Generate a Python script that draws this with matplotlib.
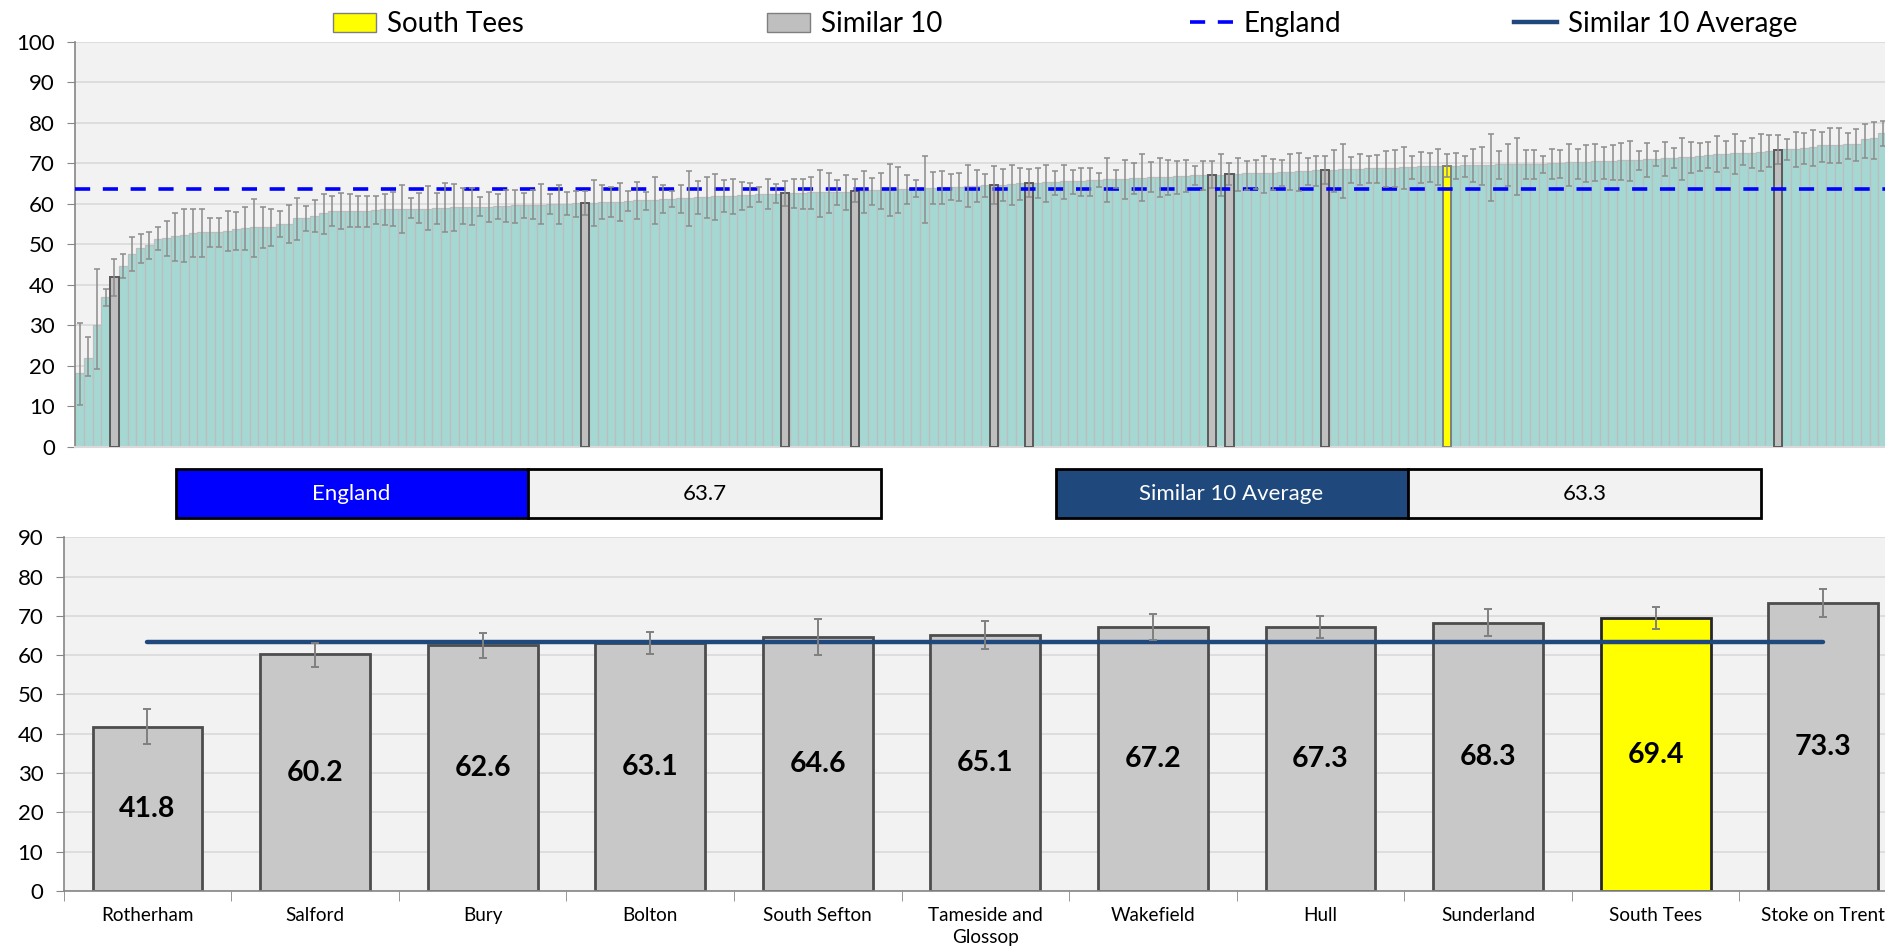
import numpy as np
import matplotlib.pyplot as plt
from matplotlib.patches import Rectangle, Patch
from matplotlib.lines import Line2D

plt.rcParams['font.family'] = ['Lato', 'DejaVu Sans']

# all CCGs, sorted ascending (value, lower CI, upper CI)
ccg_vals = [18.3, 22.0, 30.0, 36.9, 41.8, 44.7, 47.5, 49.0, 49.8, 51.4,
            51.5, 52.0, 52.3, 52.7, 52.9, 52.9, 53.0, 53.3, 53.7, 53.9,
            54.2, 54.2, 54.3, 55.0, 55.1, 56.4, 56.5, 57.0, 57.6, 58.2,
            58.2, 58.2, 58.3, 58.3, 58.4, 58.6, 58.6, 58.7, 58.8, 58.8,
            58.8, 58.9, 59.0, 59.1, 59.2, 59.3, 59.3, 59.3, 59.4, 59.5,
            59.6, 59.6, 59.7, 59.8, 59.9, 60.0, 60.0, 60.1, 60.2, 60.2,
            60.3, 60.4, 60.5, 60.6, 60.8, 60.9, 61.0, 61.1, 61.2, 61.3,
            61.5, 61.6, 61.7, 61.8, 61.9, 62.0, 62.1, 62.2, 62.3, 62.4,
            62.5, 62.6, 62.7, 62.7, 62.8, 62.9, 62.9, 63.0, 63.0, 63.1,
            63.2, 63.3, 63.4, 63.5, 63.6, 63.7, 63.8, 63.8, 63.9, 64.0,
            64.1, 64.2, 64.3, 64.4, 64.5, 64.6, 64.7, 64.8, 65.0, 65.1,
            65.2, 65.3, 65.4, 65.5, 65.6, 65.7, 65.8, 65.9, 66.1, 66.1,
            66.2, 66.3, 66.4, 66.5, 66.6, 66.7, 66.8, 66.9, 67.0, 67.1,
            67.2, 67.2, 67.3, 67.4, 67.5, 67.6, 67.7, 67.7, 67.8, 67.9,
            68.0, 68.1, 68.2, 68.3, 68.4, 68.5, 68.6, 68.6, 68.7, 68.8,
            68.9, 68.9, 69.0, 69.1, 69.2, 69.2, 69.3, 69.4, 69.4, 69.5,
            69.5, 69.6, 69.6, 69.7, 69.7, 69.8, 69.8, 69.9, 69.9, 70.0,
            70.1, 70.2, 70.3, 70.4, 70.5, 70.5, 70.6, 70.7, 70.8, 70.9,
            71.0, 71.1, 71.2, 71.3, 71.5, 71.6, 71.8, 72.0, 72.2, 72.3,
            72.4, 72.5, 72.6, 72.8, 73.0, 73.3, 73.5, 73.6, 73.8, 74.0,
            74.4, 74.5, 74.6, 74.7, 74.8, 75.9, 76.1, 77.5]

ccg_lo = [10.3, 17.4, 19.1, 34.7, 37.3, 41.6, 43.3, 45.4, 46.4, 48.5,
          47.2, 45.9, 45.7, 46.9, 46.9, 49.2, 49.4, 48.3, 48.6, 48.5,
          46.8, 49.0, 49.6, 51.8, 50.4, 51.0, 53.3, 53.0, 52.4, 54.5,
          53.7, 54.2, 54.3, 54.3, 55.0, 54.7, 54.5, 52.7, 56.4, 55.3,
          53.4, 55.1, 52.9, 53.3, 55.1, 54.7, 57.0, 55.4, 56.3, 55.4,
          55.3, 56.5, 56.1, 54.9, 57.5, 55.1, 57.1, 56.8, 57.1, 54.6,
          56.1, 56.6, 55.7, 58.3, 56.3, 58.4, 55.1, 57.6, 59.2, 57.8,
          54.5, 57.5, 56.5, 56.0, 57.9, 57.4, 58.4, 59.3, 60.5, 58.8,
          60.1, 59.4, 58.9, 58.8, 58.6, 56.6, 57.6, 59.6, 58.4, 60.3,
          57.6, 59.8, 58.6, 57.0, 57.8, 60.0, 61.6, 55.2, 60.0, 60.0,
          60.9, 60.7, 59.1, 60.5, 61.7, 60.0, 60.7, 59.8, 60.9, 61.6,
          61.3, 60.4, 62.1, 61.1, 62.4, 61.8, 61.9, 64.0, 60.3, 63.9,
          61.2, 62.5, 60.7, 62.8, 61.7, 62.1, 62.3, 62.9, 64.5, 63.5,
          63.8, 61.8, 64.5, 63.2, 63.5, 63.7, 62.7, 63.4, 64.4, 63.5,
          63.1, 64.6, 64.3, 64.9, 62.8, 61.5, 65.1, 64.5, 65.1, 65.0,
          64.2, 64.0, 63.7, 66.1, 65.2, 65.4, 64.5, 66.6, 66.0, 66.7,
          65.3, 64.5, 60.7, 66.1, 64.4, 62.2, 66.0, 66.0, 67.7, 66.1,
          66.4, 64.4, 66.2, 65.4, 65.6, 66.1, 65.9, 65.8, 65.7, 68.3,
          66.7, 69.3, 66.8, 68.7, 65.8, 67.5, 68.1, 68.7, 67.9, 68.9,
          67.3, 69.5, 68.8, 68.1, 69.1, 69.8, 70.8, 69.0, 69.7, 69.2,
          70.4, 70.0, 70.1, 71.1, 70.5, 71.4, 71.1, 74.2]

ccg_hi = [30.5, 27.2, 43.8, 39.0, 46.4, 47.7, 51.9, 52.6, 53.0, 54.2,
          55.7, 57.8, 58.6, 58.6, 58.8, 56.5, 56.4, 58.2, 58.0, 59.3,
          61.1, 59.2, 58.8, 58.3, 59.6, 61.3, 59.5, 60.9, 62.5, 61.8,
          62.7, 62.3, 62.0, 62.0, 61.8, 62.5, 63.0, 64.6, 61.5, 62.6,
          64.4, 62.7, 65.2, 64.9, 63.8, 63.8, 61.6, 63.0, 62.4, 63.4,
          63.5, 62.7, 63.3, 64.9, 62.3, 64.7, 63.0, 63.2, 63.1, 65.8,
          64.5, 64.2, 65.1, 63.2, 65.4, 62.9, 66.7, 64.7, 63.2, 64.6,
          68.1, 65.5, 66.7, 67.4, 65.8, 66.2, 65.4, 65.1, 64.2, 66.1,
          64.8, 65.7, 66.2, 66.2, 66.6, 68.4, 67.7, 65.9, 67.2, 66.0,
          68.1, 66.3, 67.7, 69.7, 69.1, 67.2, 65.9, 71.9, 67.9, 68.1,
          67.4, 67.7, 69.6, 68.4, 67.4, 69.2, 68.6, 69.5, 68.9, 68.6,
          68.7, 69.5, 68.1, 69.5, 68.4, 68.9, 68.8, 67.7, 71.4, 68.4,
          70.8, 70.1, 72.2, 70.3, 71.2, 70.9, 70.6, 70.8, 69.3, 70.5,
          70.6, 72.2, 70.1, 71.2, 70.5, 70.9, 71.9, 71.1, 70.9, 72.3,
          72.6, 71.4, 71.9, 71.7, 73.3, 74.7, 71.6, 72.2, 71.9, 72.0,
          72.9, 73.2, 74.0, 71.8, 72.8, 72.6, 73.4, 72.2, 72.6, 71.9,
          73.6, 74.1, 77.2, 72.9, 74.7, 76.1, 73.2, 73.3, 71.7, 73.4,
          73.3, 74.8, 73.5, 74.5, 74.7, 74.1, 74.6, 75.1, 75.4, 73.1,
          74.9, 72.9, 75.3, 73.8, 76.3, 75.3, 74.9, 75.3, 76.6, 75.6,
          77.3, 75.5, 76.3, 77.3, 77.0, 76.9, 76.0, 77.8, 77.4, 78.2,
          77.8, 78.8, 78.8, 77.5, 78.5, 79.7, 80.2, 80.4]

# similar 10 + South Tees
sim_names = ['Rotherham', 'Salford', 'Bury', 'Bolton', 'South Sefton',
             'Tameside and\nGlossop', 'Wakefield', 'Hull', 'Sunderland',
             'South Tees', 'Stoke on Trent']
sim_vals = [41.8, 60.2, 62.6, 63.1, 64.6, 65.1, 67.2, 67.3, 68.3, 69.4, 73.3]
sim_rank = [4, 58, 81, 89, 105, 109, 130, 132, 143, 157, 195]
home = 'South Tees'
england = 63.7
sim_avg = 63.3

W, H = 1885, 950
def frac(x0, y0, x1, y1):
    return [x0 / W, 1 - y1 / H, (x1 - x0) / W, (y1 - y0) / H]

fig = plt.figure(figsize=(W / 100, H / 100), dpi=100)

teal = '#A6D8D3'
grid_c = '#D9D9D9'
axis_c = '#868686'

# ---- top chart: all CCGs ----
ax1 = fig.add_axes(frac(75.3, 41.7, 1885, 446.7))
vals = np.array(ccg_vals)
lo = np.array(ccg_lo)
hi = np.array(ccg_hi)
x = np.arange(len(vals))
home_rank = sim_rank[sim_names.index(home)]
other = [i for i in x if i not in sim_rank]
ax1.bar(other, vals[other], width=1.0, color=teal, edgecolor='#BDBDBD', linewidth=0.9, zorder=2)
peers = [r for r in sim_rank if r != home_rank]
ax1.bar(peers, vals[peers], width=0.95, color='#BFBFBF', edgecolor='#5A5A5A', linewidth=1.4, zorder=3)
ax1.bar([home_rank], vals[[home_rank]], width=0.95, color='#FFFF00', edgecolor='#7F7F7F', linewidth=1.4, zorder=3)
ax1.errorbar(x, vals, yerr=[vals - lo, hi - vals], fmt='none', ecolor='#8C8C8C',
             elinewidth=1.1, capsize=2.4, capthick=1.1, zorder=5)
ax1.axhline(england, color='#0000FF', lw=2.6, dashes=(4.2, 3.5), zorder=4)

ax1.set_xlim(-0.5, -0.5 + (1885 - 75.3) / 8.71)
ax1.set_ylim(0, 100)
ax1.set_yticks(range(0, 101, 10))
ax1.set_xticks([])
ax1.set_facecolor('#F2F2F2')
ax1.set_axisbelow(True)
ax1.grid(axis='y', color=grid_c, lw=1.2)
for s in ['top', 'right']:
    ax1.spines[s].set_visible(False)
ax1.spines['left'].set_color(axis_c)
ax1.spines['left'].set_linewidth(1.2)
ax1.spines['bottom'].set_color(grid_c)
ax1.spines['bottom'].set_linewidth(1.5)
ax1.tick_params(axis='y', length=6, color=axis_c, labelsize=16, pad=8.7)

# ---- bottom chart: similar 10 (axis runs past the right edge, as in the source) ----
ax2 = fig.add_axes(frac(63.7, 537.4, 1907, 890.8))
sv = np.array(sim_vals)
slo = np.array([ccg_lo[r] for r in sim_rank])
shi = np.array([ccg_hi[r] for r in sim_rank])
xs = np.arange(len(sv))
face = ['#FFFF00' if n == home else '#C8C8C8' for n in sim_names]
edge = ['#262626' if n == home else '#4D4D4D' for n in sim_names]
ax2.bar(xs, sv, width=0.655, color=face, edgecolor=edge, linewidth=2, zorder=2)
ax2.plot([xs[0], xs[-1]], [sim_avg, sim_avg], color='#1F497D', lw=3.2,
         solid_capstyle='round', zorder=3)
ax2.errorbar(xs, sv, yerr=[sv - slo, shi - sv], fmt='none', ecolor='#808080',
             elinewidth=1.4, capsize=3, capthick=1.4, zorder=4)
for xi, v in zip(xs, sv):
    ax2.text(xi, v / 2, f'{v:.1f}', ha='center', va='center',
             fontsize=20.5, fontweight='bold', zorder=5)

ax2.set_xlim(-0.5, len(sv) - 0.5)
ax2.set_ylim(0, 90)
ax2.set_yticks(range(0, 91, 10))
ax2.set_xticks(xs)
ax2.set_xticklabels(sim_names, fontsize=13.6, linespacing=1.3)
ax2.set_xticks(np.arange(-0.5, len(sv), 1.0), minor=True)
ax2.tick_params(axis='x', which='major', length=0, pad=12)
ax2.tick_params(axis='x', which='minor', length=7, color=axis_c)
ax2.tick_params(axis='y', length=6, color=axis_c, labelsize=16, pad=8.7)
ax2.set_facecolor('#F2F2F2')
ax2.set_axisbelow(True)
ax2.grid(axis='y', color=grid_c, lw=1.2)
for s in ['top', 'right']:
    ax2.spines[s].set_visible(False)
for s in ['left', 'bottom']:
    ax2.spines[s].set_color(axis_c)
    ax2.spines[s].set_linewidth(1.2)

# ---- value boxes ----
axo = fig.add_axes([0, 0, 1, 1])
axo.set_xlim(0, W)
axo.set_ylim(H, 0)
axo.axis('off')
boxes = [('England', england, '#0000FF', 175.5),
         ('Similar 10 Average', sim_avg, '#1F497D', 1055.5)]
for label, val, col, bx in boxes:
    axo.add_patch(Rectangle((bx, 469), 352.5, 49, facecolor=col, edgecolor='black', lw=2))
    axo.add_patch(Rectangle((bx + 352.5, 469), 352.5, 49, facecolor='#F2F2F2', edgecolor='black', lw=2))
    axo.text(bx + 176, 494, label, color='white', ha='center', va='center', fontsize=16)
    axo.text(bx + 529, 494, f'{val:.1f}', color='black', ha='center', va='center', fontsize=16)

# ---- legend ----
items = [(Patch(facecolor='#FFFF00', edgecolor='#7F7F7F'), 'South Tees', 333),
         (Patch(facecolor='#BFBFBF', edgecolor='#7F7F7F'), 'Similar 10', 767),
         (Line2D([], [], color='#0000FF', lw=2.6, dashes=(4.2, 3.5)), 'England', 1190),
         (Line2D([], [], color='#1F497D', lw=3.2), 'Similar 10 Average', 1514)]
for h, lab, lx in items:
    fig.legend(handles=[h], labels=[lab], loc='center left',
               bbox_to_anchor=(lx / W, 1 - 24 / H), frameon=False, fontsize=20,
               handlelength=1.55, handleheight=0.7, handletextpad=0.38,
               borderpad=0, borderaxespad=0)

fig.savefig('out.png', dpi=100)
